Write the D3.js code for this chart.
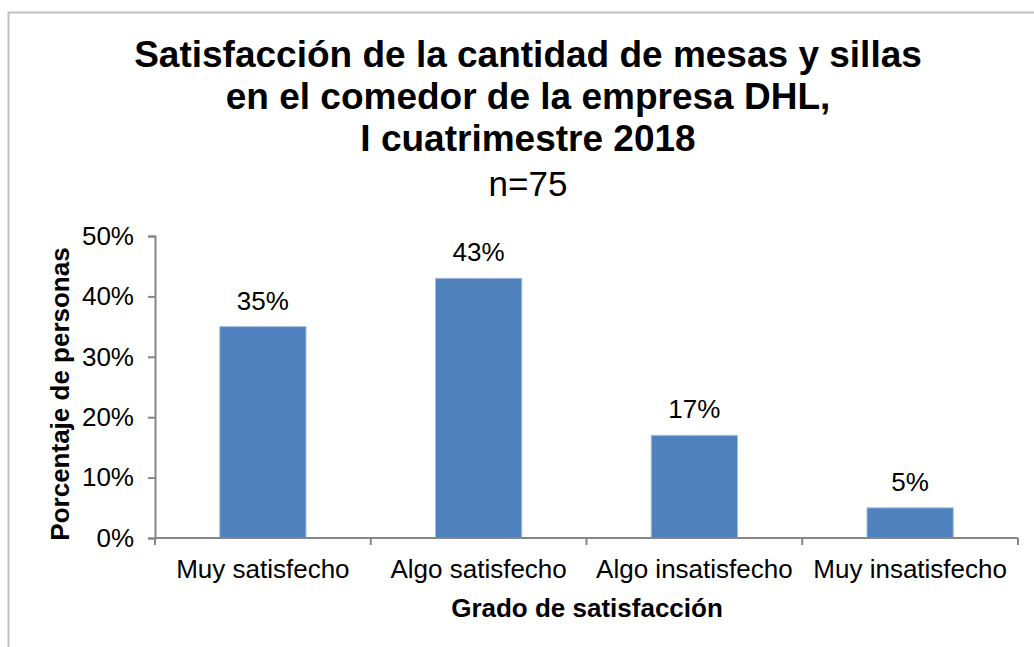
<!DOCTYPE html>
<html>
<head>
<meta charset="utf-8">
<script src="https://cdn.jsdelivr.net/npm/d3@7"></script>
<style>
  body { margin: 0; background: #fff; }
  svg { display: block; font-family: "Liberation Sans", Arial, sans-serif; }
</style>
</head>
<body>
<svg width="1034" height="647"></svg>
<script>
const categories = ['Muy satisfecho', 'Algo satisfecho', 'Algo insatisfecho', 'Muy insatisfecho'];
const values = [0.35, 0.43, 0.17, 0.05];
const yTicks = [0, 0.1, 0.2, 0.3, 0.4, 0.5];
const titleLines = ['Satisfacción de la cantidad de mesas y sillas', 'en el comedor de la empresa DHL,', 'I cuatrimestre 2018'];
const subtitle = 'n=75';

const svg = d3.select('svg');
const margin = { left: 155, right: 1018, top: 236, bottom: 538 };

// chart frame
svg.append('rect')
  .attr('x', 8.5).attr('y', 12.5)
  .attr('width', 1040).attr('height', 650)
  .attr('fill', 'none')
  .attr('stroke', '#c0c0c0')
  .attr('stroke-width', 2);

const x = d3.scaleBand()
  .domain(categories)
  .range([margin.left, margin.right])
  .paddingInner(0.6)
  .paddingOuter(0.3);

const y = d3.scaleLinear()
  .domain([0, 0.5])
  .range([margin.bottom, margin.top]);

// title
svg.append('g')
  .selectAll('text')
  .data(titleLines)
  .join('text')
    .attr('x', 528)
    .attr('y', (d, i) => 67 + i * 42)
    .attr('text-anchor', 'middle')
    .attr('font-weight', 'bold')
    .attr('font-size', 37)
    .text(d => d);

svg.append('text')
  .attr('x', 528).attr('y', 196)
  .attr('text-anchor', 'middle')
  .attr('font-size', 35)
  .text(subtitle);

// y axis
const yAxis = svg.append('g')
  .attr('transform', `translate(${margin.left},0)`)
  .call(d3.axisLeft(y).tickValues(yTicks).tickFormat(d3.format('.0%')).tickSize(7).tickPadding(14));
yAxis.select('.domain').attr('stroke', '#868686').attr('stroke-width', 2);
yAxis.selectAll('.tick line').attr('stroke', '#868686').attr('stroke-width', 2);
yAxis.selectAll('.tick text').attr('font-size', 26).attr('font-family', 'Liberation Sans, Arial, sans-serif').attr('fill', '#000');

// bars
svg.append('g')
  .selectAll('rect')
  .data(values)
  .join('rect')
    .attr('x', (d, i) => x(categories[i]))
    .attr('y', d => y(d))
    .attr('width', x.bandwidth())
    .attr('height', d => y(0) - y(d))
    .attr('fill', '#4f81bd')
    .attr('stroke', '#a9c1e0')
    .attr('stroke-width', 1);

// data labels
svg.append('g')
  .selectAll('text')
  .data(values)
  .join('text')
    .attr('x', (d, i) => x(categories[i]) + x.bandwidth() / 2)
    .attr('y', d => y(d) - 17)
    .attr('text-anchor', 'middle')
    .attr('font-size', 26)
    .text(d => d3.format('.0%')(d));

// x axis
const step = (margin.right - margin.left) / categories.length;
const xAxis = svg.append('g')
  .attr('transform', `translate(0,${margin.bottom})`);
xAxis.append('line')
  .attr('x1', margin.left).attr('x2', margin.right)
  .attr('stroke', '#868686').attr('stroke-width', 2);
xAxis.selectAll('line.tk')
  .data(d3.range(categories.length + 1))
  .join('line')
    .attr('class', 'tk')
    .attr('x1', i => margin.left + i * step)
    .attr('x2', i => margin.left + i * step)
    .attr('y1', 0).attr('y2', 7)
    .attr('stroke', '#868686').attr('stroke-width', 2);
xAxis.selectAll('text')
  .data(categories)
  .join('text')
    .attr('x', d => x(d) + x.bandwidth() / 2)
    .attr('y', 40)
    .attr('text-anchor', 'middle')
    .attr('font-size', 26)
    .text(d => d);

// axis titles
svg.append('text')
  .attr('x', 587).attr('y', 617)
  .attr('text-anchor', 'middle')
  .attr('font-weight', 'bold')
  .attr('font-size', 26)
  .text('Grado de satisfacción');

svg.append('text')
  .attr('transform', 'translate(69,394) rotate(-90)')
  .attr('text-anchor', 'middle')
  .attr('font-weight', 'bold')
  .attr('font-size', 26)
  .text('Porcentaje de personas');
</script>
</body>
</html>
